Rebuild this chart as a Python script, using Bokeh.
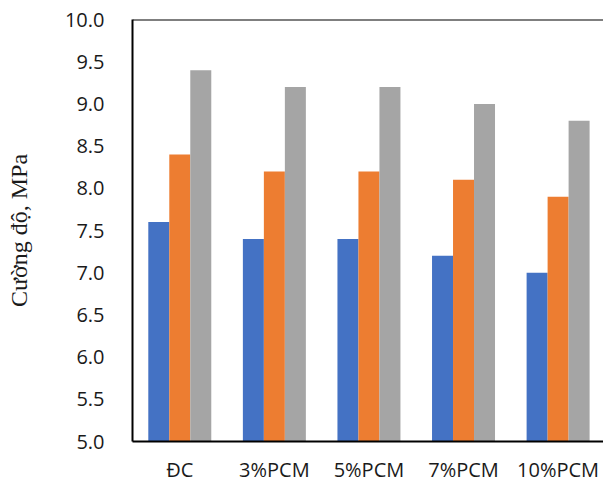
import numpy as np
from bokeh.plotting import figure
from bokeh.models import ColumnDataSource, FixedTicker, Range1d, Span
from bokeh.embed import file_html
from bokeh.resources import INLINE

categories = ["ĐC", "3%PCM", "5%PCM", "7%PCM", "10%PCM"]
series1 = [7.6, 7.4, 7.4, 7.2, 7.0]
series2 = [8.4, 8.2, 8.2, 8.1, 7.9]
series3 = [9.4, 9.2, 9.2, 9.0, 8.8]
y_ticks = [5.0, 5.5, 6.0, 6.5, 7.0, 7.5, 8.0, 8.5, 9.0, 9.5, 10.0]
colors = ["#4472C4", "#ED7D31", "#A5A5A5"]

centers = np.arange(len(categories)) + 0.5
bw = 0.222

p = figure(width=603, height=485, output_backend="svg", toolbar_location=None,
           x_range=Range1d(0, 4.98), y_range=Range1d(5.0, 10.0),
           min_border_left=132, min_border_right=0, min_border_top=19, min_border_bottom=44)
p.outline_line_color = None
p.grid.visible = False
p.background_fill_color = "white"
p.border_fill_color = "white"

for i, (vals, c) in enumerate(zip([series1, series2, series3], colors)):
    src = ColumnDataSource(dict(x=centers + (i - 1) * bw, top=vals))
    p.vbar(x="x", top="top", bottom=5.0, width=bw, color=c, line_color=None, source=src)

# x axis
p.xaxis.ticker = FixedTicker(ticks=list(centers))
p.xaxis.major_label_overrides = {float(c): lab for c, lab in zip(centers, categories)}
p.xaxis.major_tick_line_color = None
p.xaxis.minor_tick_line_color = None
p.xaxis.axis_line_color = "black"
p.xaxis.axis_line_width = 2
p.xaxis.major_label_standoff = 8
p.xaxis.major_label_text_font = "Open Sans"
p.xaxis.major_label_text_font_size = "20px"
p.xaxis.major_label_text_color = "#1a1a1a"

# y axis
p.yaxis.ticker = FixedTicker(ticks=y_ticks)
p.yaxis.major_label_overrides = {t: f"{t:.1f}" for t in y_ticks}
p.yaxis.major_tick_line_color = None
p.yaxis.minor_tick_line_color = None
p.yaxis.axis_line_color = "black"
p.yaxis.axis_line_width = 2
p.yaxis.major_label_standoff = 22
p.yaxis.major_label_text_font = "Open Sans"
p.yaxis.major_label_text_font_size = "20px"
p.yaxis.major_label_text_color = "#1a1a1a"
p.yaxis.axis_label = "Cường độ, MPa"
p.yaxis.axis_label_text_font = "Liberation Serif"
p.yaxis.axis_label_text_font_style = "normal"
p.yaxis.axis_label_text_font_size = "24px"
p.yaxis.axis_label_text_color = "#1a1a1a"
p.yaxis.axis_label_standoff = 30

# top border line
p.add_layout(Span(location=10.0, dimension="width", line_color="black", line_width=2))

open("out.html", "w").write(file_html(p, INLINE))
